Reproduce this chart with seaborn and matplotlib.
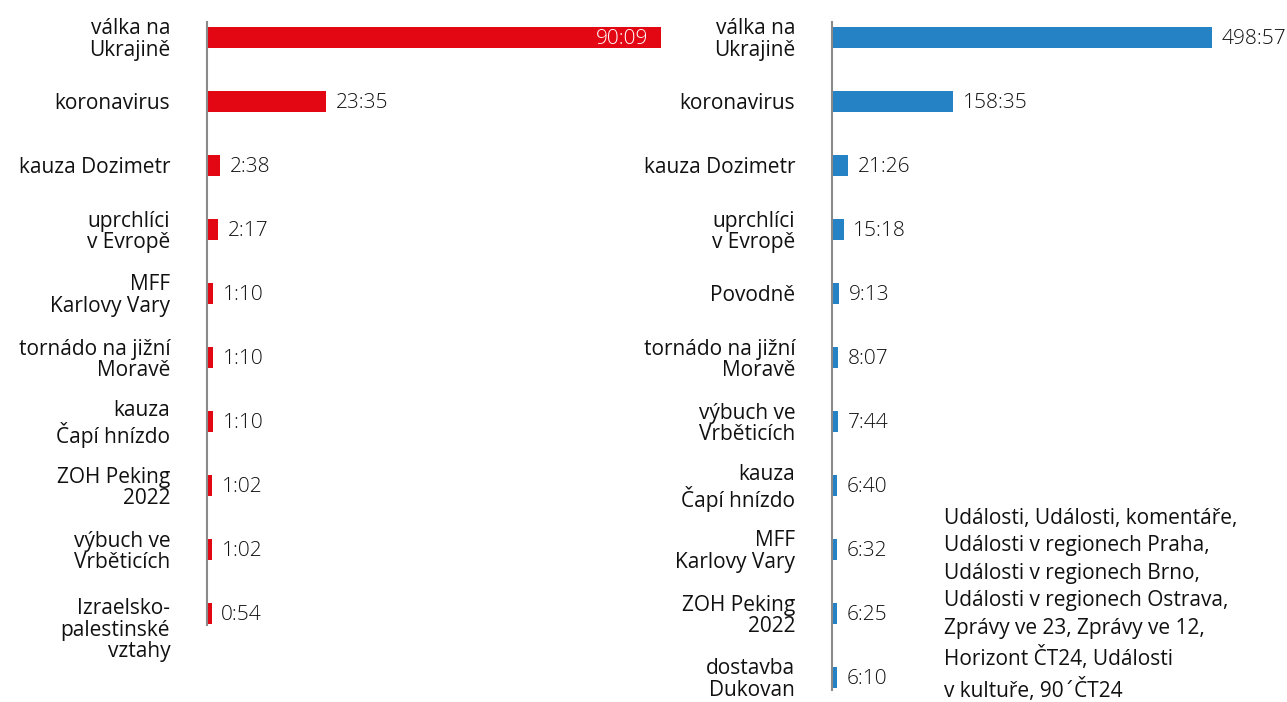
import matplotlib
matplotlib.use("Agg")
import matplotlib.pyplot as plt
import matplotlib.transforms as mtransforms
import seaborn as sns
import pandas as pd

left_categories = ["válka na\nUkrajině", "koronavirus", "kauza Dozimetr", "uprchlíci\nv Evropě",
                   "MFF\nKarlovy Vary", "tornádo na jižní\nMoravě", "kauza\nČapí hnízdo",
                   "ZOH Peking\n2022", "výbuch ve\nVrběticích", "Izraelsko-\npalestinské\nvztahy"]
left_times = ["90:09", "23:35", "2:38", "2:17", "1:10", "1:10", "1:10", "1:02", "1:02", "0:54"]

right_categories = ["válka na\nUkrajině", "koronavirus", "kauza Dozimetr", "uprchlíci\nv Evropě",
                    "Povodně", "tornádo na jižní\nMoravě", "výbuch ve\nVrběticích", "kauza\nČapí hnízdo",
                    "MFF\nKarlovy Vary", "ZOH Peking\n2022", "dostavba\nDukovan"]
right_times = ["498:57", "158:35", "21:26", "15:18", "9:13", "8:07", "7:44", "6:40", "6:32", "6:25", "6:10"]

note_text = ("Události, Události, komentáře,\nUdálosti v regionech Praha,\nUdálosti v regionech Brno,\n"
             "Události v regionech Ostrava,\nZprávy ve 23, Zprávy ve 12,\nHorizont ČT24, Události\n"
             "v kultuře, 90ˊČT24")

RED = "#E30613"
BLUE = "#2582C5"
FONT = ["Open Sans", "DejaVu Sans"]
LABEL_SIZE = 15
VALUE_SIZE = 15

def to_seconds(t):
    m, s = t.split(":")
    return int(m) * 60 + int(s)

W, H = 1287, 702
fig = plt.figure(figsize=(W / 100, H / 100), dpi=100)
sns.set_style("white")
plt.rcParams["font.family"] = FONT

ROW = 64.0  # px per category row

def make_panel(x0, x1, top_px, bottom_px, cats, times, color, first_inside):
    ax = fig.add_axes([x0 / W, 1 - bottom_px / H, (x1 - x0) / W, (bottom_px - top_px) / H])
    df = pd.DataFrame({"cat": cats, "sec": [to_seconds(t) for t in times], "lab": times})
    sns.barplot(data=df, x="sec", y="cat", orient="h", color=color, saturation=1,
                width=21 / ROW, linewidth=0, ax=ax)
    n = len(cats)
    first_center = top_px + 15
    ax.set_ylim(n - 1 + (bottom_px - (first_center + (n - 1) * ROW)) / ROW, -15 / ROW)
    ax.set_xlim(0, df["sec"].max())
    ax.set_xlabel("")
    ax.set_ylabel("")
    ax.set_xticks([])
    for s in ["top", "right", "bottom"]:
        ax.spines[s].set_visible(False)
    ax.spines["left"].set_color("#8a8a8a")
    ax.spines["left"].set_linewidth(1.5)
    ax.tick_params(axis="y", length=0, pad=26.5, labelsize=LABEL_SIZE, labelcolor="#111111")
    for lbl in ax.get_yticklabels():
        lbl.set_linespacing(1.03)
        nl = lbl.get_text().count("\n") + 1
        if nl > 2:
            off = mtransforms.ScaledTranslation(0, -(nl - 2) * 14.5 / 100, fig.dpi_scale_trans)
            lbl.set_transform(lbl.get_transform() + off)
    for i, (v, t) in enumerate(zip(df["sec"], df["lab"])):
        if i == 0 and first_inside:
            ax.annotate(t, (v, i), xytext=(-9, -1.2), textcoords="offset points", ha="right",
                        va="center", color="white", fontsize=VALUE_SIZE, fontweight="light")
        else:
            ax.annotate(t, (v, i), xytext=(7, -1.2), textcoords="offset points", ha="left",
                        va="center", color="#111111", fontsize=VALUE_SIZE, fontweight="light",
                        annotation_clip=False)
    return ax

make_panel(207, 661, 22, 625, left_categories, left_times, RED, True)
make_panel(832, 1212, 22, 690, right_categories, right_times, BLUE, False)

fig.text(944 / W, 1 - 508 / H, note_text, ha="left", va="top", fontsize=LABEL_SIZE,
         color="#111111", linespacing=1.40)

fig.savefig("out.png", dpi=100, facecolor="white")
